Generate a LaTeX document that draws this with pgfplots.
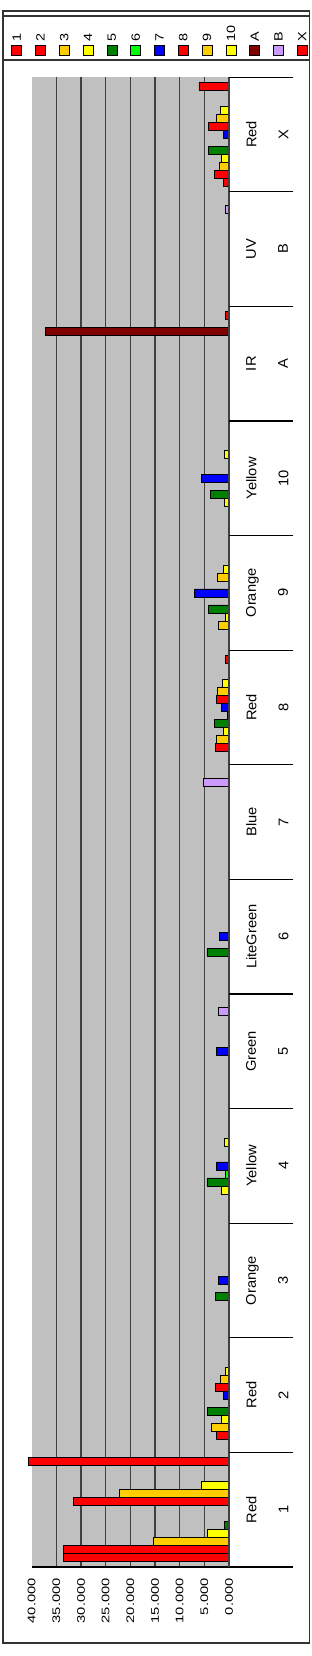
\documentclass[border=0pt]{standalone}
\usepackage{fontspec}
\setmainfont{Liberation Sans}
\usepackage{pgfplots}
\usepackage{pgfplotstable}
\pgfplotsset{compat=1.18}

\definecolor{cRed}{RGB}{255,0,0}
\definecolor{cGold}{RGB}{255,204,0}
\definecolor{cYel}{RGB}{255,255,0}
\definecolor{cGreen}{RGB}{0,128,0}
\definecolor{cLime}{RGB}{0,255,0}
\definecolor{cBlue}{RGB}{0,0,255}
\definecolor{cMaroon}{RGB}{128,0,0}
\definecolor{cLilac}{RGB}{204,153,255}
\definecolor{plotgray}{RGB}{192,192,192}
\definecolor{gridgray}{RGB}{64,64,64}

% rows: categories 1,2,...,10,A,B,X (index 0..12); columns: series
\pgfplotstableread{
cat s1 s2 s3 s4 s5 s6 s7 s8 s9 s10 sA sB sX
0 33.6 33.6 15.4 4.5 1.0 0 0 31.6 22.3 5.7 0.1 0 40.6
1 0.1 2.6 3.6 1.5 4.3 0 1.2 2.7 1.8 0.8 0 0 0.1
2 0 0 0.2 0.2 2.7 0 2.2 0 0.2 0.2 0 0 0
3 0 0 0 1.5 4.5 0.8 2.5 0 0 1.0 0 0 0
4 0 0 0 0 0 0 2.5 0 0 0 0 2.2 0
5 0 0 0 0 4.5 0.2 2.0 0 0 0 0 0 0
6 0 0 0 0 0 0 0 0 0 0 0 5.2 0
7 0 2.8 2.5 1.15 3.0 0.3 1.6 2.6 2.4 1.3 0 0 0.8
8 0.1 0.1 2.2 0.7 4.2 0.1 7.0 0.1 2.4 1.15 0 0 0
9 0 0 0 0.95 3.7 0.1 5.6 0 0 1.0 0 0 0
10 0.1 0.1 0.1 0.1 0 0 0 0.1 0.1 0 37.3 0 0.8
11 0 0 0 0 0 0 0 0 0 0 0 0.8 0
12 1.15 3.0 2.0 1.5 4.2 0.1 1.15 4.2 2.5 1.7 0 0 6.1
}\datatable

\begin{document}
\begin{tikzpicture}
\path[use as bounding box] (0pt,0pt) rectangle (311pt,1656pt);
\begin{axis}[
  at={(31.7pt,89pt)}, anchor=south west,
  scale only axis, width=197.3pt, height=1489.8pt,
  xbar=0pt, bar width=8pt,
  x dir=reverse,
  xmin=0, xmax=40, ymin=-0.5, ymax=12.5,
  clip=false,
  axis background/.style={fill=plotgray},
  axis line style={draw=none},
  major tick length=0pt,
  xtick={0,5,...,40},
  xticklabels={0.000,5.000,10.000,15.000,20.000,25.000,30.000,35.000,40.000},
  xticklabel style={rotate=90, xscale=1.34, anchor=east, inner sep=0pt, font=\fontsize{11}{13}\selectfont},
  xticklabel shift=11pt,
  extra x ticks={5,10,...,35},
  extra x tick labels={},
  extra x tick style={grid=major, major grid style={gridgray, line width=1.3pt}},
  ytick={0,...,12},
  yticklabel pos=right,
  yticklabels={{Red\\1},{Red\\2},{Orange\\3},{Yellow\\4},{Green\\5},{LiteGreen\\6},{Blue\\7},{Red\\8},{Orange\\9},{Yellow\\10},{IR\\A},{UV\\B},{Red\\X}},
  yticklabel style={rotate=90, xscale=1.05, anchor=north, inner sep=0pt, align=center, font=\fontsize{14}{32}\selectfont},
  yticklabel shift=17pt,
  every axis plot/.append style={draw=black, line width=0.6pt},
]
\addplot[fill=cRed] table[x=s1, y=cat]{\datatable};
\addplot[fill=cRed] table[x=s2, y=cat]{\datatable};
\addplot[fill=cGold] table[x=s3, y=cat]{\datatable};
\addplot[fill=cYel] table[x=s4, y=cat]{\datatable};
\addplot[fill=cGreen] table[x=s5, y=cat]{\datatable};
\addplot[fill=cLime] table[x=s6, y=cat]{\datatable};
\addplot[fill=cBlue] table[x=s7, y=cat]{\datatable};
\addplot[fill=cRed] table[x=s8, y=cat]{\datatable};
\addplot[fill=cGold] table[x=s9, y=cat]{\datatable};
\addplot[fill=cYel] table[x=s10, y=cat]{\datatable};
\addplot[fill=cMaroon] table[x=sA, y=cat]{\datatable};
\addplot[fill=cLilac] table[x=sB, y=cat]{\datatable};
\addplot[fill=cRed] table[x=sX, y=cat]{\datatable};
\draw[black, line width=1.2pt] (axis cs:40,-0.5) -- (axis cs:0,-0.5) -- ++(64pt,0pt);
\draw[black!75, line width=1.5pt] (axis cs:0,-0.5) -- (axis cs:0,12.5);
\pgfplotsinvokeforeach{0.5,1.5,...,12.5}{\draw[black, line width=1.1pt] (axis cs:0,#1) -- ++(64pt,0pt);}
\end{axis}
% chart frame and legend box
\draw[black!80, line width=1.2pt] (3pt,13pt) rectangle (309.5pt,1645pt);
\draw[black!80, line width=1.2pt] (3pt,1640pt) -- (309.5pt,1640pt);
\draw[black!80, line width=1.2pt] (3pt,1596pt) -- (309.5pt,1596pt);
\foreach \i/\c/\t in {0/cRed/1,1/cRed/2,2/cGold/3,3/cYel/4,4/cGreen/5,5/cLime/6,6/cBlue/7,7/cRed/8,8/cGold/9,9/cYel/10,10/cMaroon/A,11/cLilac/B,12/cRed/X}{
  \pgfmathsetmacro\xc{16.7+23.8*\i}
  \pgfmathsetmacro\xa{\xc-5}
  \pgfmathsetmacro\xb{\xc+5}
  \draw[black, line width=0.7pt, fill=\c] (\xa pt,1601pt) rectangle (\xb pt,1611pt);
  \node[rotate=90, xscale=1.2, anchor=west, inner sep=0pt, font=\fontsize{12}{14}\selectfont] at (\xc pt,1614pt) {\t};
}
\end{tikzpicture}
\end{document}
